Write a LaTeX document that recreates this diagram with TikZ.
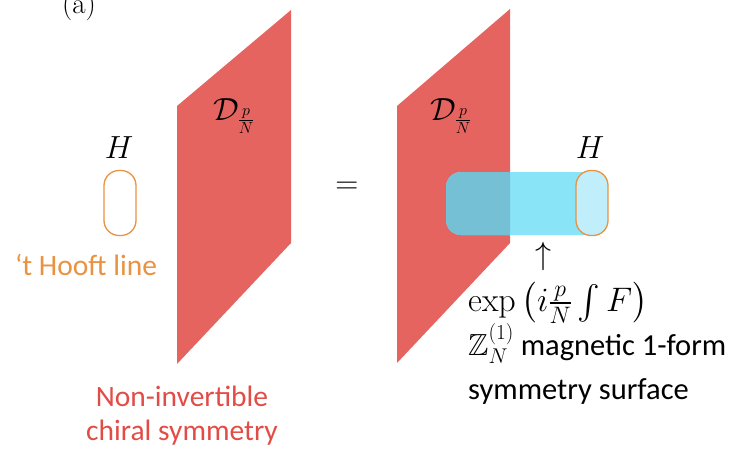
\RequirePackage{fix-cm}
\documentclass[tikz,border=0pt]{standalone}
\usepackage{amsmath,amssymb}
\usepackage{fontspec}
\setsansfont{Carlito}
\usetikzlibrary{positioning}
\definecolor{planered}{RGB}{230,100,96}
\definecolor{textred}{RGB}{226,76,70}
\definecolor{hooft}{RGB}{233,146,66}
\definecolor{tube}{RGB}{137,228,248}
\definecolor{tubeover}{RGB}{118,192,214}
\definecolor{tubecap}{RGB}{192,238,250}

\begin{document}
\begin{tikzpicture}[x=1pt,y=-1pt,
plane/.style={fill=planered},
loopline/.style={draw=hooft,line width=1.3pt,rounded corners=15pt,minimum width=32pt,minimum height=65pt,inner sep=0pt},
mathlbl/.style={font=\fontsize{32}{36}\selectfont},
sftext/.style={font=\sffamily\fontsize{29.5}{34}\selectfont,align=left,inner sep=0pt}]
\useasboundingbox (0,0) rectangle (729,448);

% left side: 't Hooft line and the defect
\fill[plane] (177,106) -- (291,10) -- (291,243) -- (177,364) -- cycle;
\node[font=\fontsize{29}{32}\selectfont] (tag) at (79,6) {(a)};
\node[mathlbl] (dleft) at (234,116) {$\mathcal{D}_{\frac{p}{N}}$};
\node[loopline] (hleft) at (120,203) {};
\node[mathlbl] (hlabl) at (119,148) {$H$};
\node[sftext,text=hooft] (hname) at (86,265) {`t Hooft line};
\node[sftext,text=textred,align=center] (defname) at (182,416) {Non-invertible\\chiral symmetry};

\node[mathlbl] (eq) at (347,188) {$=$};

% right side: defect swept past the line
\fill[plane] (397,106) -- (510,9) -- (510,243) -- (397,363) -- cycle;
\node[mathlbl] (dright) at (451,116) {$\mathcal{D}_{\frac{p}{N}}$};
\fill[tube,rounded corners=15pt] (446,172) rectangle (600,235);
\begin{scope}
\clip (397,106) -- (510,9) -- (510,243) -- (397,363) -- cycle;
\fill[tubeover,rounded corners=15pt] (446,172) rectangle (600,235);
\end{scope}
\node[loopline,fill=tubecap] (hright) at (592,203) {};
\node[mathlbl] (hlabr) at (590,148) {$H$};
\node[mathlbl] (up) at (543,256) {$\uparrow$};
\node[font=\fontsize{34}{36}\selectfont,anchor=west,inner sep=0pt] (flux) at (468,303) {$\exp\left(i\frac{p}{N}\int F\right)$};
\node[sftext,font=\sffamily\fontsize{30.5}{35}\selectfont,anchor=north west] (surf) at (468,323) {$\mathbb{Z}_N^{(1)}$ magnetic 1-form\\[9pt]symmetry surface};
\end{tikzpicture}
\end{document}
